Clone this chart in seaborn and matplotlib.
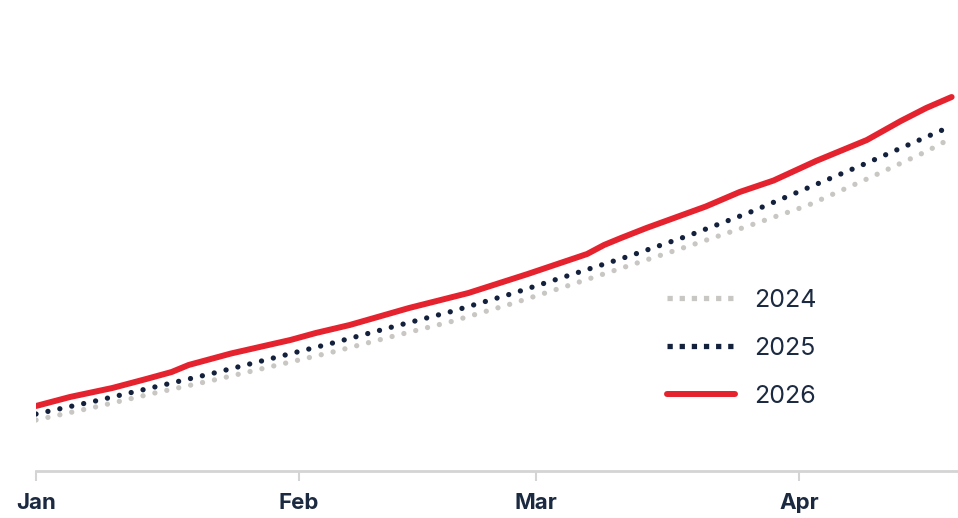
import pandas as pd
import matplotlib
matplotlib.use("Agg")
import matplotlib.pyplot as plt
import seaborn as sns

# values are an index (no y axis shown), 2026 calendar
dates_prev = ["2026-01-01", "2026-01-08", "2026-01-15", "2026-01-22", "2026-01-29",
              "2026-02-05", "2026-02-12", "2026-02-19", "2026-02-26", "2026-03-05",
              "2026-03-12", "2026-03-19", "2026-03-26", "2026-04-02", "2026-04-09",
              "2026-04-16", "2026-04-19"]
v2024 = [51, 64, 78, 91, 105, 119, 134.5, 149.5, 167, 186, 205.5, 225, 245, 265.5, 292, 319.5, 333]
v2025 = [57, 70, 84, 98, 113, 128, 144, 159.5, 177, 196, 215, 235.5, 258, 283, 308, 334, 345]
dates_2026 = ["2026-01-01", "2026-01-05", "2026-01-10", "2026-01-14", "2026-01-17",
              "2026-01-19", "2026-01-24", "2026-01-31", "2026-02-03", "2026-02-07",
              "2026-02-14", "2026-02-21", "2026-02-28", "2026-03-07", "2026-03-09",
              "2026-03-11", "2026-03-14", "2026-03-21", "2026-03-25", "2026-03-29",
              "2026-04-03", "2026-04-09", "2026-04-13", "2026-04-16", "2026-04-19"]
v2026 = [65, 74, 83, 92, 99, 106, 117.5, 131, 138, 146, 163, 178, 197, 217, 226,
         233, 243, 264.5, 279, 290.5, 310, 331, 350, 363, 374]
years = ["2024", "2025", "2026"]
colors = {"2024": "#c9c7c3", "2025": "#14213d", "2026": "#e5232f"}
text_color = "#1b2a41"

df = pd.DataFrame({
    "date": pd.to_datetime(dates_prev + dates_prev + dates_2026),
    "value": v2024 + v2025 + v2026,
    "year": ["2024"] * len(v2024) + ["2025"] * len(v2025) + ["2026"] * len(v2026),
})

sns.set_style("white")
plt.rcParams["font.family"] = ["Inter", "DejaVu Sans"]

fig = plt.figure(figsize=(9.58, 5.18), dpi=100)
ax = fig.add_axes([36 / 958, 47 / 518, 922 / 958, 471 / 518])

sns.lineplot(data=df, x="date", y="value", hue="year", hue_order=years,
             palette=colors, style="year", style_order=years,
             dashes={"2024": (0.01, 2.3), "2025": (0.01, 2.3), "2026": ""},
             linewidth=3.8, ax=ax, legend=True)
for line in ax.lines:
    line.set_dash_capstyle("round")
    line.set_solid_capstyle("round")
    line.set_solid_joinstyle("round")
    if line.get_label() == "2026" or line.get_color() == colors["2026"]:
        line.set_linewidth(4.3)

ax.set_xlim(pd.Timestamp("2026-01-01"), pd.Timestamp("2026-01-01") + pd.Timedelta(days=108.75))
ax.set_ylim(0, 471)
ax.set_xlabel("")
ax.set_ylabel("")
ax.set_yticks([])
ticks = pd.to_datetime(["2026-01-01", "2026-02-01", "2026-03-01", "2026-04-01"])
ax.set_xticks(ticks)
ax.set_xticklabels(["Jan", "Feb", "Mar", "Apr"], fontsize=16, fontweight="bold", color=text_color)
ax.tick_params(axis="x", length=7, width=1.5, color="#d4d4d4", pad=9, bottom=True)

for s in ["top", "right", "left"]:
    ax.spines[s].set_visible(False)
ax.spines["bottom"].set_color("#d4d4d4")
ax.spines["bottom"].set_linewidth(2)

handles, labels = ax.get_legend_handles_labels()
for h in handles:
    if h.get_label() != "2026":
        h.set_dashes((1, 1.3))
        h.set_dash_capstyle("butt")
    else:
        h.set_linewidth(4.3)
leg = ax.legend(handles, labels, loc="upper left", bbox_to_anchor=(0.66, 0.435),
                frameon=False, fontsize=18, handlelength=2.7, handletextpad=0.8,
                labelspacing=1.0, labelcolor=text_color)

fig.savefig("out.png", dpi=100)
